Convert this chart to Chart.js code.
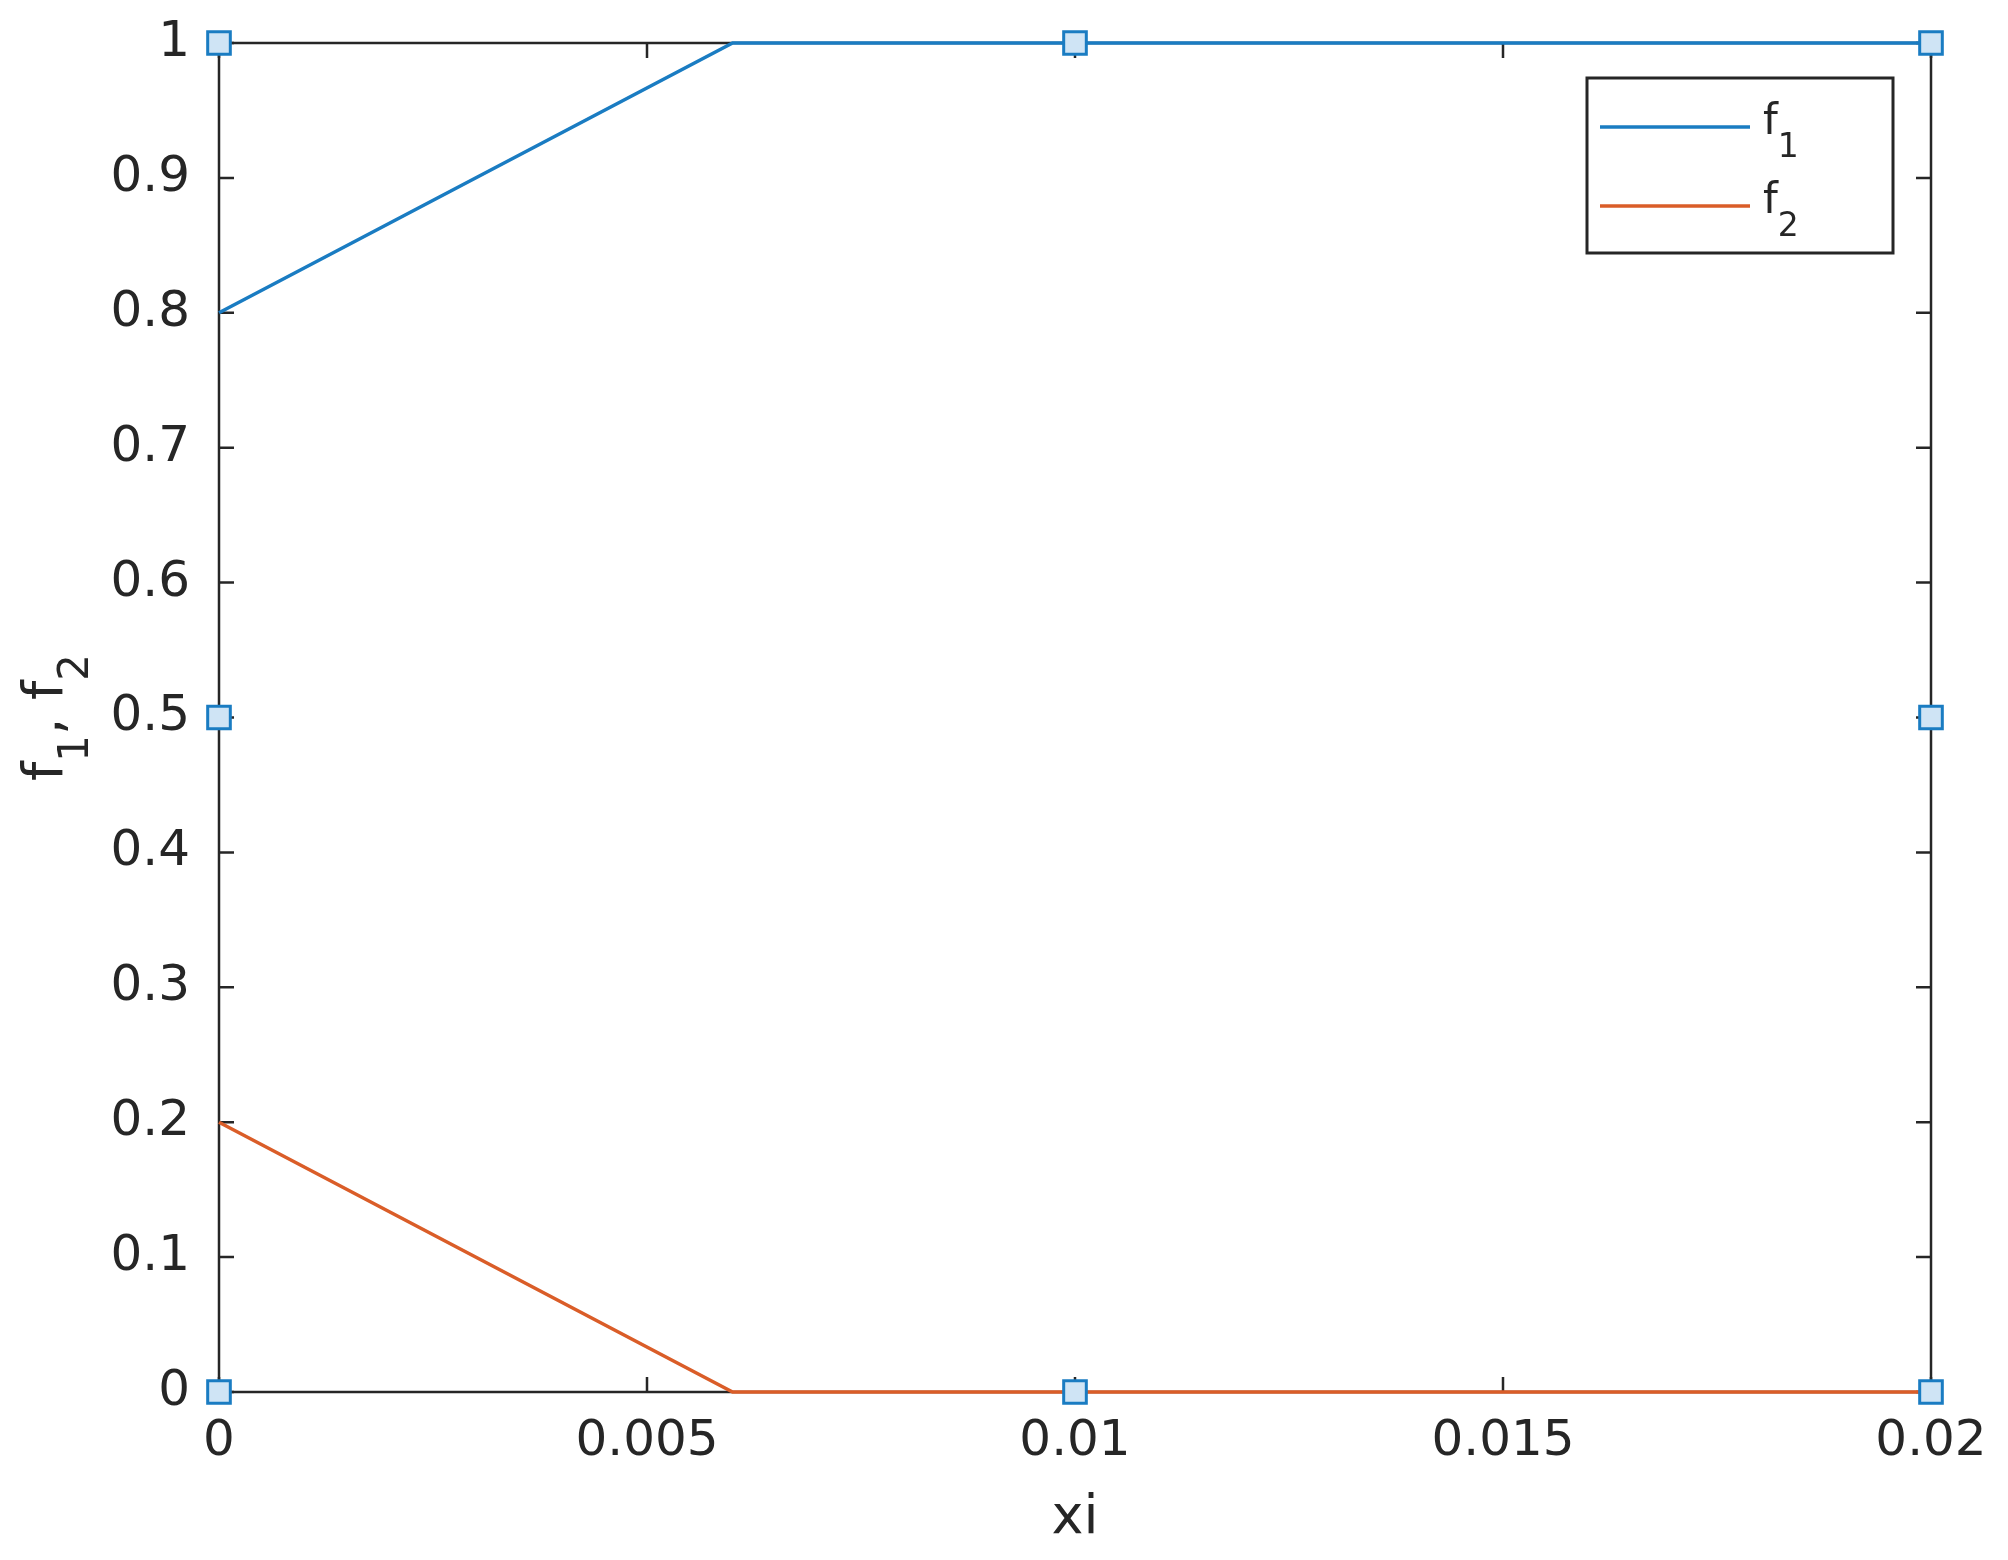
<!DOCTYPE html>
<html>
<head>
<meta charset="utf-8">
<script src="https://cdn.jsdelivr.net/npm/chart.js@4.4.0/dist/chart.umd.min.js"></script>
<style>
  html, body { margin: 0; padding: 0; background: #fff; }
  #chart { display: block; }
</style>
</head>
<body>
<canvas id="chart" width="2008" height="1560"></canvas>
<script>
// line data
const xValues = [0, 0.006, 0.02];
const f1Values = [0.8, 1, 1];
const f2Values = [0.2, 0, 0];

// square node markers
const nodeX = [0, 0, 0, 0.01, 0.01, 0.02, 0.02, 0.02];
const nodeY = [0, 0.5, 1, 0, 1, 0, 0.5, 1];

// ticks
const xTicks = [0, 0.005, 0.01, 0.015, 0.02];
const xTickLabels = ['0', '0.005', '0.01', '0.015', '0.02'];
const yTicks = [0, 0.1, 0.2, 0.3, 0.4, 0.5, 0.6, 0.7, 0.8, 0.9, 1];
const yTickLabels = ['0', '0.1', '0.2', '0.3', '0.4', '0.5', '0.6', '0.7', '0.8', '0.9', '1'];

// series names as [base, subscript]
const seriesNames = [['f', '1'], ['f', '2']];
const xTitle = 'xi';
const yTitleParts = [['f', '1'], [', f', '2']];

const FONT = '"DejaVu Sans", sans-serif';
const INK = '#262626';
const BLUE = '#1a7cc2';
const ORANGE = '#da5d28';

function toPoints(xs, ys) {
    return xs.map((x, i) => ({ x: x, y: ys[i] }));
}

// draws text with subscripts, starting at x on baseline y
function drawSubText(ctx, parts, x, y, mainSize, subSize, drop, measureOnly) {
    let cx = x;
    parts.forEach(p => {
        ctx.font = mainSize + 'px ' + FONT;
        if (!measureOnly) ctx.fillText(p[0], cx, y);
        cx += ctx.measureText(p[0]).width;
        ctx.font = subSize + 'px ' + FONT;
        if (!measureOnly) ctx.fillText(p[1], cx, y + drop);
        cx += ctx.measureText(p[1]).width;
    });
    return cx - x;
}

// box + inward ticks on all four sides
const boxPlugin = {
    id: 'matlabBox',
    beforeDatasetsDraw(chart) {
        const ctx = chart.ctx;
        const a = chart.chartArea;
        const xs = chart.scales.x, ys = chart.scales.y;
        const len = 15;
        ctx.save();
        ctx.strokeStyle = INK;
        ctx.lineWidth = 2.5;
        ctx.beginPath();
        xs.ticks.forEach(t => {
            const px = xs.getPixelForValue(t.value);
            ctx.moveTo(px, a.bottom); ctx.lineTo(px, a.bottom - len);
            ctx.moveTo(px, a.top); ctx.lineTo(px, a.top + len);
        });
        ys.ticks.forEach(t => {
            const py = ys.getPixelForValue(t.value);
            ctx.moveTo(a.left, py); ctx.lineTo(a.left + len, py);
            ctx.moveTo(a.right, py); ctx.lineTo(a.right - len, py);
        });
        ctx.stroke();
        ctx.strokeRect(a.left, a.top, a.right - a.left, a.bottom - a.top);

        // y axis title, rotated
        const midY = (a.top + a.bottom) / 2;
        ctx.fillStyle = INK;
        ctx.textBaseline = 'alphabetic';
        ctx.textAlign = 'left';
        ctx.translate(62, midY);
        ctx.rotate(-Math.PI / 2);
        const w = drawSubText(ctx, yTitleParts, 0, 0, 55, 42, 26, true);
        drawSubText(ctx, yTitleParts, -w / 2, 0, 55, 42, 26, false);
        ctx.restore();
    }
};

// legend box in the upper right corner
const legendPlugin = {
    id: 'boxLegend',
    afterDatasetsDraw(chart) {
        const ctx = chart.ctx;
        const a = chart.chartArea;
        const right = a.right - 38, top = a.top + 35;
        const w = 306, h = 175;
        const left = right - w;
        ctx.save();
        ctx.fillStyle = '#fff';
        ctx.fillRect(left, top, w, h);
        ctx.strokeStyle = INK;
        ctx.lineWidth = 3;
        ctx.strokeRect(left, top, w, h);
        ctx.textBaseline = 'alphabetic';
        ctx.textAlign = 'left';
        const rows = [top + 49, top + 128];
        [0, 1].forEach(i => {
            const ds = chart.data.datasets[i];
            ctx.strokeStyle = ds.borderColor;
            ctx.lineWidth = 3.5;
            ctx.beginPath();
            ctx.moveTo(left + 13, rows[i]);
            ctx.lineTo(left + 163, rows[i]);
            ctx.stroke();
            ctx.fillStyle = INK;
            drawSubText(ctx, [seriesNames[i]], left + 176, rows[i] + 7, 42, 33, 23, false);
        });
        ctx.restore();
    }
};

const ctx = document.getElementById('chart').getContext('2d');
const chart = new Chart(ctx, {
    type: 'scatter',
    data: {
        datasets: [
            {
                label: seriesNames[0].join(''),
                data: toPoints(xValues, f1Values),
                showLine: true,
                borderColor: BLUE,
                backgroundColor: BLUE,
                borderWidth: 3.5,
                pointRadius: 0,
                order: 2,
                clip: false
            },
            {
                label: seriesNames[1].join(''),
                data: toPoints(xValues, f2Values),
                showLine: true,
                borderColor: ORANGE,
                backgroundColor: ORANGE,
                borderWidth: 3.5,
                pointRadius: 0,
                order: 1,
                clip: false
            },
            {
                label: 'nodes',
                data: toPoints(nodeX, nodeY),
                showLine: false,
                pointStyle: 'rect',
                pointRadius: 16,
                pointBorderWidth: 3,
                pointBorderColor: BLUE,
                pointBackgroundColor: '#cfe4f5',
                order: 0,
                clip: false
            }
        ]
    },
    options: {
        responsive: false,
        animation: false,
        events: [],
        layout: { padding: { top: 43, right: 77, bottom: 0, left: 0 } },
        plugins: {
            legend: { display: false },
            tooltip: { enabled: false }
        },
        scales: {
            x: {
                type: 'linear',
                min: 0,
                max: 0.02,
                afterBuildTicks: s => { s.ticks = xTicks.map(v => ({ value: v })); },
                afterFit: s => { s.height = 168; s.paddingLeft = 0; s.paddingRight = 0; },
                grid: { display: false, drawTicks: false },
                border: { display: false },
                ticks: {
                    padding: 20,
                    color: INK,
                    font: { family: FONT, size: 50 },
                    maxRotation: 0,
                    autoSkip: false,
                    callback: (v, i) => xTickLabels[i]
                },
                title: {
                    display: true,
                    text: xTitle,
                    color: INK,
                    font: { family: FONT, size: 54 },
                    padding: { top: 0, bottom: 9 }
                }
            },
            y: {
                type: 'linear',
                min: 0,
                max: 1,
                afterBuildTicks: s => { s.ticks = yTicks.map(v => ({ value: v })); },
                afterFit: s => { s.width = 219; s.paddingTop = 0; s.paddingBottom = 0; },
                grid: { display: false, drawTicks: false },
                border: { display: false },
                ticks: {
                    padding: 29,
                    color: INK,
                    font: { family: FONT, size: 50 },
                    autoSkip: false,
                    callback: (v, i) => yTickLabels[i]
                }
            }
        }
    },
    plugins: [boxPlugin, legendPlugin]
});
</script>
</body>
</html>
